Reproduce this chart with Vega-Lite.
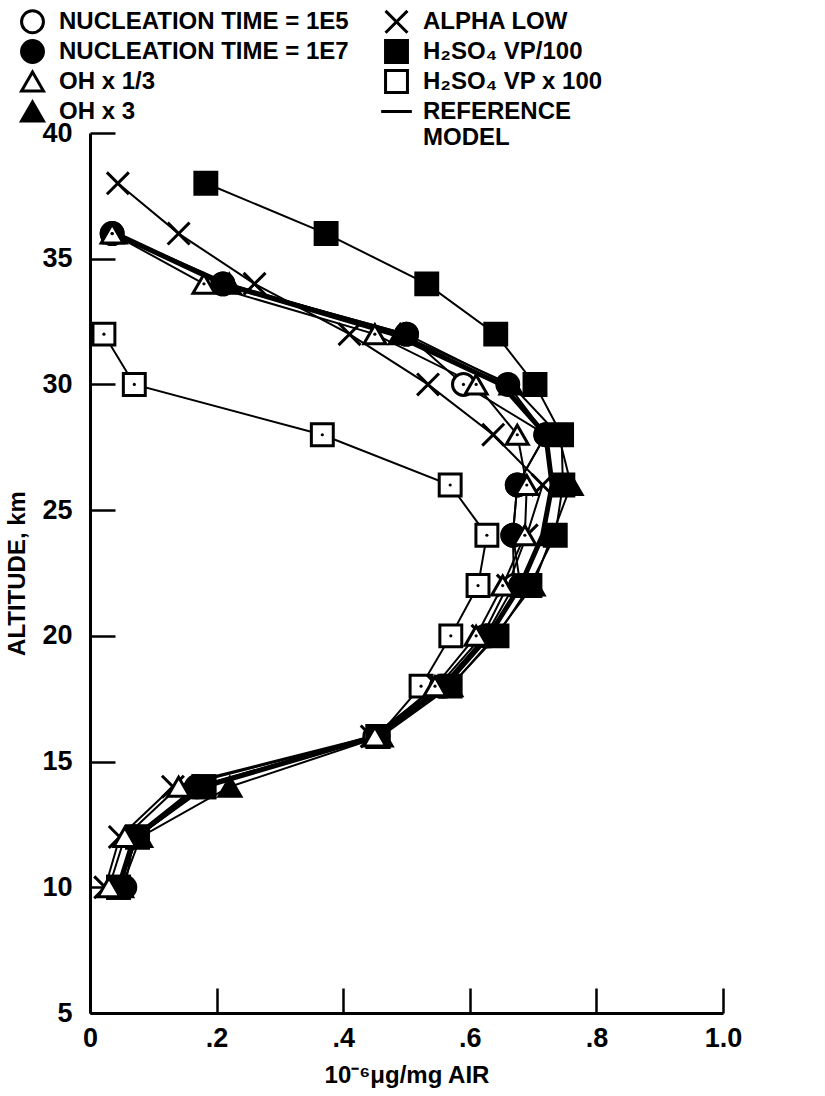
{
  "$schema": "https://vega.github.io/schema/vega-lite/v6.json",
  "width": 633,
  "height": 880,
  "autosize": {"type": "none"},
  "padding": {"left": 90, "top": 133, "right": 102, "bottom": 83},
  "background": "white",
  "config": {
    "view": {"stroke": null},
    "font": "Liberation Sans",
    "axis": {
      "domainColor": "black", "domainWidth": 3, "tickColor": "black", "tickWidth": 2.5,
      "tickSize": -25, "grid": false, "labelColor": "black", "labelFont": "Liberation Sans",
      "labelFontSize": 27, "labelFontWeight": "bold", "titleColor": "black",
      "titleFont": "Liberation Sans", "titleFontSize": 24, "titleFontWeight": "bold"
    }
  },
  "data": {"values": [
    {"s": "H₂SO₄ VP x 100", "km": 10, "v": 0.045}, {"s": "H₂SO₄ VP x 100", "km": 12, "v": 0.075},
    {"s": "H₂SO₄ VP x 100", "km": 14, "v": 0.180}, {"s": "H₂SO₄ VP x 100", "km": 16, "v": 0.455},
    {"s": "H₂SO₄ VP x 100", "km": 18, "v": 0.523}, {"s": "H₂SO₄ VP x 100", "km": 20, "v": 0.570},
    {"s": "H₂SO₄ VP x 100", "km": 22, "v": 0.613}, {"s": "H₂SO₄ VP x 100", "km": 24, "v": 0.627},
    {"s": "H₂SO₄ VP x 100", "km": 26, "v": 0.569}, {"s": "H₂SO₄ VP x 100", "km": 28, "v": 0.367},
    {"s": "H₂SO₄ VP x 100", "km": 30, "v": 0.070}, {"s": "H₂SO₄ VP x 100", "km": 32, "v": 0.022},

    {"s": "NUCLEATION TIME = 1E5", "km": 10, "v": 0.050}, {"s": "NUCLEATION TIME = 1E5", "km": 12, "v": 0.068},
    {"s": "NUCLEATION TIME = 1E5", "km": 14, "v": 0.168}, {"s": "NUCLEATION TIME = 1E5", "km": 16, "v": 0.450},
    {"s": "NUCLEATION TIME = 1E5", "km": 18, "v": 0.555}, {"s": "NUCLEATION TIME = 1E5", "km": 20, "v": 0.625},
    {"s": "NUCLEATION TIME = 1E5", "km": 22, "v": 0.670}, {"s": "NUCLEATION TIME = 1E5", "km": 24, "v": 0.668},
    {"s": "NUCLEATION TIME = 1E5", "km": 26, "v": 0.675}, {"s": "NUCLEATION TIME = 1E5", "km": 28, "v": 0.720},
    {"s": "NUCLEATION TIME = 1E5", "km": 30, "v": 0.590}, {"s": "NUCLEATION TIME = 1E5", "km": 32, "v": 0.500},
    {"s": "NUCLEATION TIME = 1E5", "km": 34, "v": 0.210}, {"s": "NUCLEATION TIME = 1E5", "km": 36, "v": 0.035},

    {"s": "OH x 3", "km": 10, "v": 0.050}, {"s": "OH x 3", "km": 12, "v": 0.080},
    {"s": "OH x 3", "km": 14, "v": 0.221}, {"s": "OH x 3", "km": 16, "v": 0.460},
    {"s": "OH x 3", "km": 18, "v": 0.570}, {"s": "OH x 3", "km": 20, "v": 0.640},
    {"s": "OH x 3", "km": 22, "v": 0.700}, {"s": "OH x 3", "km": 24, "v": 0.730},
    {"s": "OH x 3", "km": 26, "v": 0.760}, {"s": "OH x 3", "km": 28, "v": 0.740},
    {"s": "OH x 3", "km": 30, "v": 0.665}, {"s": "OH x 3", "km": 32, "v": 0.490},
    {"s": "OH x 3", "km": 34, "v": 0.220}, {"s": "OH x 3", "km": 36, "v": 0.040},

    {"s": "NUCLEATION TIME = 1E7", "km": 10, "v": 0.055}, {"s": "NUCLEATION TIME = 1E7", "km": 12, "v": 0.070},
    {"s": "NUCLEATION TIME = 1E7", "km": 14, "v": 0.170}, {"s": "NUCLEATION TIME = 1E7", "km": 16, "v": 0.455},
    {"s": "NUCLEATION TIME = 1E7", "km": 18, "v": 0.560}, {"s": "NUCLEATION TIME = 1E7", "km": 20, "v": 0.630},
    {"s": "NUCLEATION TIME = 1E7", "km": 22, "v": 0.680}, {"s": "NUCLEATION TIME = 1E7", "km": 24, "v": 0.668},
    {"s": "NUCLEATION TIME = 1E7", "km": 26, "v": 0.675}, {"s": "NUCLEATION TIME = 1E7", "km": 28, "v": 0.720},
    {"s": "NUCLEATION TIME = 1E7", "km": 30, "v": 0.660}, {"s": "NUCLEATION TIME = 1E7", "km": 32, "v": 0.500},
    {"s": "NUCLEATION TIME = 1E7", "km": 34, "v": 0.210}, {"s": "NUCLEATION TIME = 1E7", "km": 36, "v": 0.035},

    {"s": "H₂SO₄ VP/100", "km": 10, "v": 0.045}, {"s": "H₂SO₄ VP/100", "km": 12, "v": 0.075},
    {"s": "H₂SO₄ VP/100", "km": 14, "v": 0.180}, {"s": "H₂SO₄ VP/100", "km": 16, "v": 0.455},
    {"s": "H₂SO₄ VP/100", "km": 18, "v": 0.569}, {"s": "H₂SO₄ VP/100", "km": 20, "v": 0.643},
    {"s": "H₂SO₄ VP/100", "km": 22, "v": 0.695}, {"s": "H₂SO₄ VP/100", "km": 24, "v": 0.735},
    {"s": "H₂SO₄ VP/100", "km": 26, "v": 0.747}, {"s": "H₂SO₄ VP/100", "km": 28, "v": 0.745},
    {"s": "H₂SO₄ VP/100", "km": 30, "v": 0.703}, {"s": "H₂SO₄ VP/100", "km": 32, "v": 0.641},
    {"s": "H₂SO₄ VP/100", "km": 34, "v": 0.532}, {"s": "H₂SO₄ VP/100", "km": 36, "v": 0.373},
    {"s": "H₂SO₄ VP/100", "km": 38, "v": 0.183},

    {"s": "ALPHA LOW", "km": 10, "v": 0.024}, {"s": "ALPHA LOW", "km": 12, "v": 0.047},
    {"s": "ALPHA LOW", "km": 14, "v": 0.131}, {"s": "ALPHA LOW", "km": 16, "v": 0.445},
    {"s": "ALPHA LOW", "km": 18, "v": 0.550}, {"s": "ALPHA LOW", "km": 20, "v": 0.620},
    {"s": "ALPHA LOW", "km": 22, "v": 0.660}, {"s": "ALPHA LOW", "km": 24, "v": 0.690},
    {"s": "ALPHA LOW", "km": 26, "v": 0.715}, {"s": "ALPHA LOW", "km": 28, "v": 0.637},
    {"s": "ALPHA LOW", "km": 30, "v": 0.534}, {"s": "ALPHA LOW", "km": 32, "v": 0.410},
    {"s": "ALPHA LOW", "km": 34, "v": 0.260}, {"s": "ALPHA LOW", "km": 36, "v": 0.140},
    {"s": "ALPHA LOW", "km": 38, "v": 0.044},

    {"s": "OH x 1/3", "km": 10, "v": 0.030}, {"s": "OH x 1/3", "km": 12, "v": 0.055},
    {"s": "OH x 1/3", "km": 14, "v": 0.140}, {"s": "OH x 1/3", "km": 16, "v": 0.450},
    {"s": "OH x 1/3", "km": 18, "v": 0.545}, {"s": "OH x 1/3", "km": 20, "v": 0.610},
    {"s": "OH x 1/3", "km": 22, "v": 0.652}, {"s": "OH x 1/3", "km": 24, "v": 0.687},
    {"s": "OH x 1/3", "km": 26, "v": 0.690}, {"s": "OH x 1/3", "km": 28, "v": 0.675},
    {"s": "OH x 1/3", "km": 30, "v": 0.610}, {"s": "OH x 1/3", "km": 32, "v": 0.450},
    {"s": "OH x 1/3", "km": 34, "v": 0.180}, {"s": "OH x 1/3", "km": 36, "v": 0.035},

    {"s": "REFERENCE MODEL", "km": 10, "v": 0.045}, {"s": "REFERENCE MODEL", "km": 12, "v": 0.070},
    {"s": "REFERENCE MODEL", "km": 14, "v": 0.180}, {"s": "REFERENCE MODEL", "km": 16, "v": 0.450},
    {"s": "REFERENCE MODEL", "km": 18, "v": 0.560}, {"s": "REFERENCE MODEL", "km": 20, "v": 0.630},
    {"s": "REFERENCE MODEL", "km": 22, "v": 0.680}, {"s": "REFERENCE MODEL", "km": 24, "v": 0.715},
    {"s": "REFERENCE MODEL", "km": 26, "v": 0.730}, {"s": "REFERENCE MODEL", "km": 28, "v": 0.720},
    {"s": "REFERENCE MODEL", "km": 30, "v": 0.650}, {"s": "REFERENCE MODEL", "km": 32, "v": 0.480},
    {"s": "REFERENCE MODEL", "km": 34, "v": 0.210}, {"s": "REFERENCE MODEL", "km": 36, "v": 0.040}
  ]},
  "encoding": {
    "x": {
      "field": "v", "type": "quantitative",
      "scale": {"domain": [0, 1], "nice": false, "zero": false},
      "axis": {
        "values": [0, 0.2, 0.4, 0.6, 0.8, 1],
        "labelExpr": "datum.value == 0 ? '0' : datum.value == 1 ? '1.0' : replace(format(datum.value, '.1f'), '0.', '.')",
        "labelPadding": 37, "labelFlush": false, "title": "10⁻⁶μg/mg AIR", "titlePadding": 12
      }
    },
    "y": {
      "field": "km", "type": "quantitative",
      "scale": {"domain": [5, 40], "nice": false, "zero": false},
      "axis": {
        "values": [5, 10, 15, 20, 25, 30, 35, 40],
        "labelPadding": 43, "labelFlush": false, "title": "ALTITUDE, km", "titlePadding": 12
      }
    }
  },
  "layer": [
    {
      "transform": [{"filter": "datum.s !== 'REFERENCE MODEL'"}],
      "mark": {"type": "line", "color": "black", "strokeWidth": 2},
      "encoding": {"detail": {"field": "s"}, "order": {"field": "km"}}
    },
    {
      "transform": [{"filter": "datum.s === 'REFERENCE MODEL'"}],
      "mark": {"type": "line", "color": "black", "strokeWidth": 5},
      "encoding": {"order": {"field": "km"}}
    },
    {
      "transform": [{"filter": "datum.s !== 'REFERENCE MODEL'"}],
      "mark": {"type": "point", "filled": true, "strokeWidth": 3, "size": 480, "opacity": 1},
      "encoding": {
        "shape": {
          "field": "s", "type": "nominal",
          "scale": {
            "domain": ["NUCLEATION TIME = 1E5", "NUCLEATION TIME = 1E7", "OH x 1/3", "OH x 3", "ALPHA LOW", "H₂SO₄ VP/100", "H₂SO₄ VP x 100", "REFERENCE MODEL"],
            "range": ["circle", "circle", "triangle-up", "triangle-up", "M-1,-1L1,1M-1,1L1,-1", "square", "square", "M-1.4,0L1.4,0"]
          },
          "legend": {
            "orient": "none", "legendX": -70, "legendY": -124, "columns": 2, "title": null,
            "labelFont": "Liberation Sans", "labelFontSize": 24, "labelFontWeight": "bold", "labelColor": "black",
            "labelLimit": 0, "labelOffset": 14, "symbolSize": 480, "symbolStrokeWidth": 3, "symbolStrokeColor": "black",
            "rowPadding": -7, "columnPadding": 26,
            "labelExpr": "datum.label == 'REFERENCE MODEL' ? ['REFERENCE', 'MODEL'] : datum.label",
            "encode": {
              "labels": {"update": {"dy": {"signal": "datum.value === 'REFERENCE MODEL' ? 14 : 0"}}},
              "symbols": {"update": {"stroke": {"value": "black"}, "strokeWidth": {"value": 3}, "strokeOpacity": {"value": 1}, "opacity": {"value": 1}}}
            }
          }
        },
        "fill": {
          "field": "s", "type": "nominal",
          "scale": {
            "domain": ["NUCLEATION TIME = 1E5", "NUCLEATION TIME = 1E7", "OH x 1/3", "OH x 3", "ALPHA LOW", "H₂SO₄ VP/100", "H₂SO₄ VP x 100", "REFERENCE MODEL"],
            "range": ["white", "black", "white", "black", "white", "black", "white", "black"]
          }
        },
        "stroke": {
          "field": "s", "type": "nominal",
          "scale": {
            "domain": ["NUCLEATION TIME = 1E5", "NUCLEATION TIME = 1E7", "OH x 1/3", "OH x 3", "ALPHA LOW", "H₂SO₄ VP/100", "H₂SO₄ VP x 100", "REFERENCE MODEL"],
            "range": ["black", "black", "black", "black", "black", "black", "black", "black"]
          }
        }
      }
    },
    {
      "transform": [{"filter": "(datum.s === 'NUCLEATION TIME = 1E5' || datum.s === 'OH x 1/3' || datum.s === 'H₂SO₄ VP x 100') && datum.km > 17"}],
      "mark": {"type": "point", "filled": true, "color": "black", "size": 10, "opacity": 1}
    }
  ]
}
